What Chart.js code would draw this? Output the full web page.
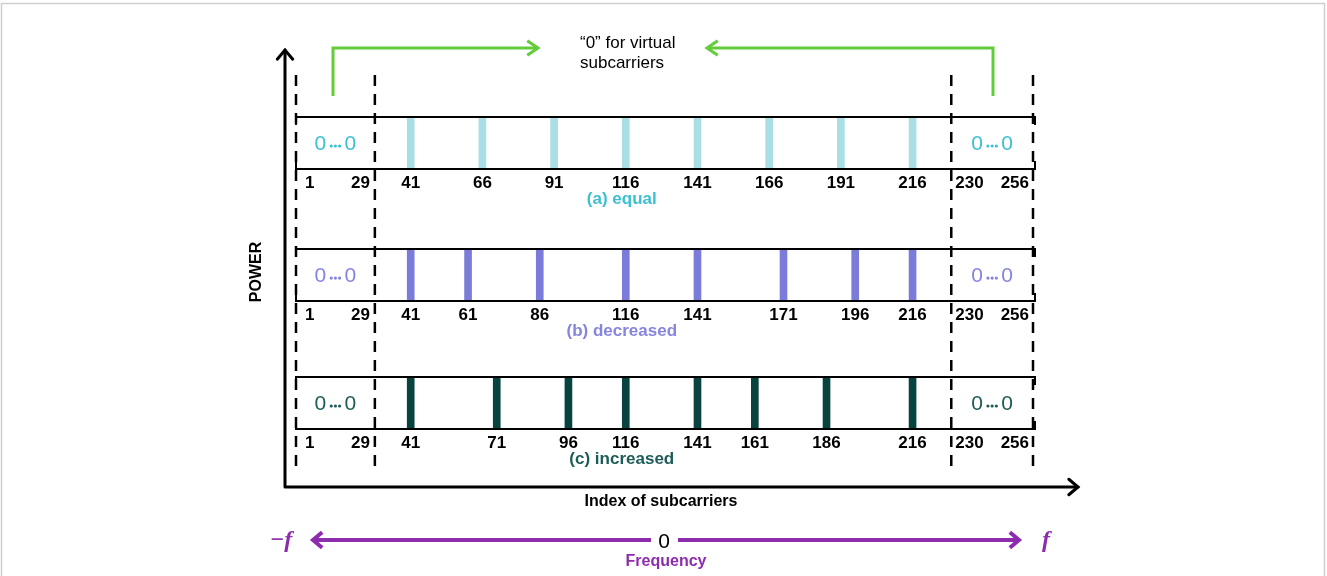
<!DOCTYPE html>
<html>
<head>
<meta charset="utf-8">
<title>Pilot subcarrier allocation</title>
<script src="https://cdn.jsdelivr.net/npm/chart.js@4.4.1/dist/chart.umd.min.js"></script>
<style>
  html, body { margin: 0; padding: 0; background: #fff; }
  #wrap { width: 1327px; height: 576px; position: relative; }
</style>
</head>
<body>
<div id="wrap"><canvas id="pilotChart"></canvas></div>
<script>
/* pilot subcarrier positions for three power allocation cases */
const rowNames = ['(a) equal', '(b) decreased', '(c) increased'];
const equalIdx = [41, 66, 91, 116, 141, 166, 191, 216];
const decreasedIdx = [41, 61, 86, 116, 141, 171, 196, 216];
const increasedIdx = [41, 71, 96, 116, 141, 161, 186, 216];
const edgeTicks = [1, 29, 230, 256];
const pilotPower = 1;

// layout / style
const rowBase = [5, 2.46, 0];
const barColors = ['#a8dee4', '#7b7bd9', '#08433f'];
const textColors = ['#3cc0d2', '#8585e0', '#1d5c57'];
const FONT = '"Liberation Sans", Arial, sans-serif';

function rowData(idx, r) {
    return idx.map(i => ({ x: i, y: [rowBase[r], rowBase[r] + pilotPower] }));
}

function chevron(ctx, x, y, ang, len, spread) {
    ctx.beginPath();
    ctx.moveTo(x - len * Math.cos(ang - spread), y - len * Math.sin(ang - spread));
    ctx.lineTo(x, y);
    ctx.lineTo(x - len * Math.cos(ang + spread), y - len * Math.sin(ang + spread));
    ctx.stroke();
}

const diagramPlugin = {
    id: 'diagram',
    beforeDraw(chart) {
        const ctx = chart.ctx;
        ctx.save();
        ctx.fillStyle = '#fff';
        ctx.fillRect(0, 0, chart.width, chart.height);
        ctx.strokeStyle = '#cfcfcf';
        ctx.lineWidth = 1.5;
        ctx.strokeRect(1.5, 3.5, 1323, 620);
        ctx.restore();
    },
    afterDatasetsDraw(chart) {
        const ctx = chart.ctx, xs = chart.scales.x, ys = chart.scales.y;
        const X = v => xs.getPixelForValue(v);
        const xl = X(1), xr = X(258);
        ctx.save();
        // dashed boundaries of virtual subcarriers
        ctx.strokeStyle = '#000';
        ctx.lineWidth = 2.5;
        ctx.setLineDash([11, 8]);
        [1, 28.5, 229.5, 258].forEach(v => {
            ctx.beginPath();
            ctx.moveTo(X(v), 75);
            ctx.lineTo(X(v), 470);
            ctx.stroke();
        });
        ctx.setLineDash([]);
        // panels
        const lists = [equalIdx, decreasedIdx, increasedIdx];
        lists.forEach((idx, r) => {
            const yb = ys.getPixelForValue(rowBase[r]);
            const yt = ys.getPixelForValue(rowBase[r] + pilotPower);
            ctx.strokeStyle = '#000';
            ctx.lineWidth = 2;
            ctx.beginPath();
            ctx.moveTo(xl, yt + 8); ctx.lineTo(xl, yt); ctx.lineTo(xr + 2, yt); ctx.lineTo(xr + 2, yt + 8);
            ctx.moveTo(xl, yb - 8); ctx.lineTo(xl, yb); ctx.lineTo(xr + 2, yb); ctx.lineTo(xr + 2, yb - 8);
            ctx.stroke();
            // index labels
            ctx.fillStyle = '#000';
            ctx.font = 'bold 17px ' + FONT;
            ctx.textBaseline = 'middle';
            ctx.textAlign = 'center';
            const ly = yb + 14;
            idx.forEach(i => ctx.fillText(String(i), X(i), ly));
            ctx.textAlign = 'left';
            ctx.fillText(String(edgeTicks[0]), X(edgeTicks[0]) + 9, ly);
            ctx.fillText(String(edgeTicks[2]), X(edgeTicks[2] - 0.5) + 4, ly);
            ctx.textAlign = 'right';
            ctx.fillText(String(edgeTicks[1]), X(edgeTicks[1] - 0.5) - 5, ly);
            ctx.fillText(String(edgeTicks[3]), xr - 4, ly);
            // captions
            ctx.fillStyle = textColors[r];
            ctx.textAlign = 'center';
            ctx.fillText(rowNames[r], X(116) - 4, yb + 30);
            // zero placeholders
            const ym = (yt + yb) / 2;
            [X(14.75), X(243.75)].forEach(cx => {
                ctx.font = '21px ' + FONT;
                ctx.fillStyle = textColors[r];
                ctx.textAlign = 'center';
                ctx.fillText('0', cx - 15, ym + 1);
                ctx.fillText('0', cx + 15, ym + 1);
                for (let k = -1; k <= 1; k++) {
                    ctx.beginPath();
                    ctx.arc(cx + k * 4.2, ym + 3, 1.6, 0, Math.PI * 2);
                    ctx.fill();
                }
            });
        });
        ctx.restore();
    },
    afterDraw(chart) {
        const ctx = chart.ctx;
        ctx.save();
        // axes
        ctx.strokeStyle = '#000';
        ctx.lineWidth = 3;
        ctx.lineCap = 'round';
        ctx.beginPath();
        ctx.moveTo(285, 487); ctx.lineTo(285, 50);
        ctx.moveTo(285, 487); ctx.lineTo(1078, 487);
        ctx.stroke();
        chevron(ctx, 285, 50, -Math.PI / 2, 12, 0.7);
        chevron(ctx, 1078, 487, 0, 12, 0.7);
        ctx.fillStyle = '#000';
        ctx.font = 'bold 16px ' + FONT;
        ctx.textAlign = 'center';
        ctx.textBaseline = 'middle';
        ctx.fillText('Index of subcarriers', 661, 502);
        ctx.save();
        ctx.translate(257, 272);
        ctx.rotate(-Math.PI / 2);
        ctx.fillText('POWER', 0, 0);
        ctx.restore();
        // virtual subcarrier arrows
        ctx.strokeStyle = '#62cc3a';
        ctx.lineWidth = 3;
        ctx.lineCap = 'butt';
        ctx.lineJoin = 'miter';
        ctx.beginPath();
        ctx.moveTo(333, 96); ctx.lineTo(333, 48); ctx.lineTo(538, 48);
        ctx.moveTo(993, 96); ctx.lineTo(993, 48); ctx.lineTo(707, 48);
        ctx.stroke();
        chevron(ctx, 538, 48, 0, 13, 0.6);
        chevron(ctx, 707, 48, Math.PI, 13, 0.6);
        ctx.fillStyle = '#000';
        ctx.font = '17px ' + FONT;
        ctx.textAlign = 'left';
        ctx.fillText('\u201C0\u201D for virtual', 580, 43);
        ctx.fillText('subcarriers', 580, 63);
        // frequency arrow
        const purple = '#8e2cae';
        ctx.strokeStyle = purple;
        ctx.lineWidth = 4;
        ctx.beginPath();
        ctx.moveTo(314, 540); ctx.lineTo(651, 540);
        ctx.moveTo(678, 540); ctx.lineTo(1018, 540);
        ctx.stroke();
        chevron(ctx, 313, 540, Math.PI, 12, 0.7);
        chevron(ctx, 1019, 540, 0, 12, 0.7);
        ctx.fillStyle = '#000';
        ctx.font = '21px ' + FONT;
        ctx.textAlign = 'center';
        ctx.fillText('0', 664, 542);
        ctx.fillStyle = purple;
        ctx.font = 'bold 16px ' + FONT;
        ctx.fillText('Frequency', 666, 562);
        ctx.font = 'italic bold 24px "Liberation Serif", "Times New Roman", serif';
        ctx.fillText('\u2212f', 281, 541);
        ctx.fillText('f', 1046, 541);
        ctx.restore();
    }
};

new Chart(document.getElementById('pilotChart'), {
    type: 'bar',
    data: {
        datasets: [equalIdx, decreasedIdx, increasedIdx].map((idx, r) => ({
            label: rowNames[r],
            data: rowData(idx, r),
            backgroundColor: barColors[r],
            borderWidth: 0,
            barThickness: 7,
            grouped: false
        }))
    },
    options: {
        responsive: true,
        maintainAspectRatio: false,
        animation: false,
        layout: { padding: { left: 296, right: 294, top: 117, bottom: 147 } },
        scales: {
            x: { type: 'linear', min: 1, max: 258, offset: false, display: false },
            y: { type: 'linear', min: 0, max: 6, display: false }
        },
        plugins: { legend: { display: false }, tooltip: { enabled: false } }
    },
    plugins: [diagramPlugin]
});
</script>
</body>
</html>
